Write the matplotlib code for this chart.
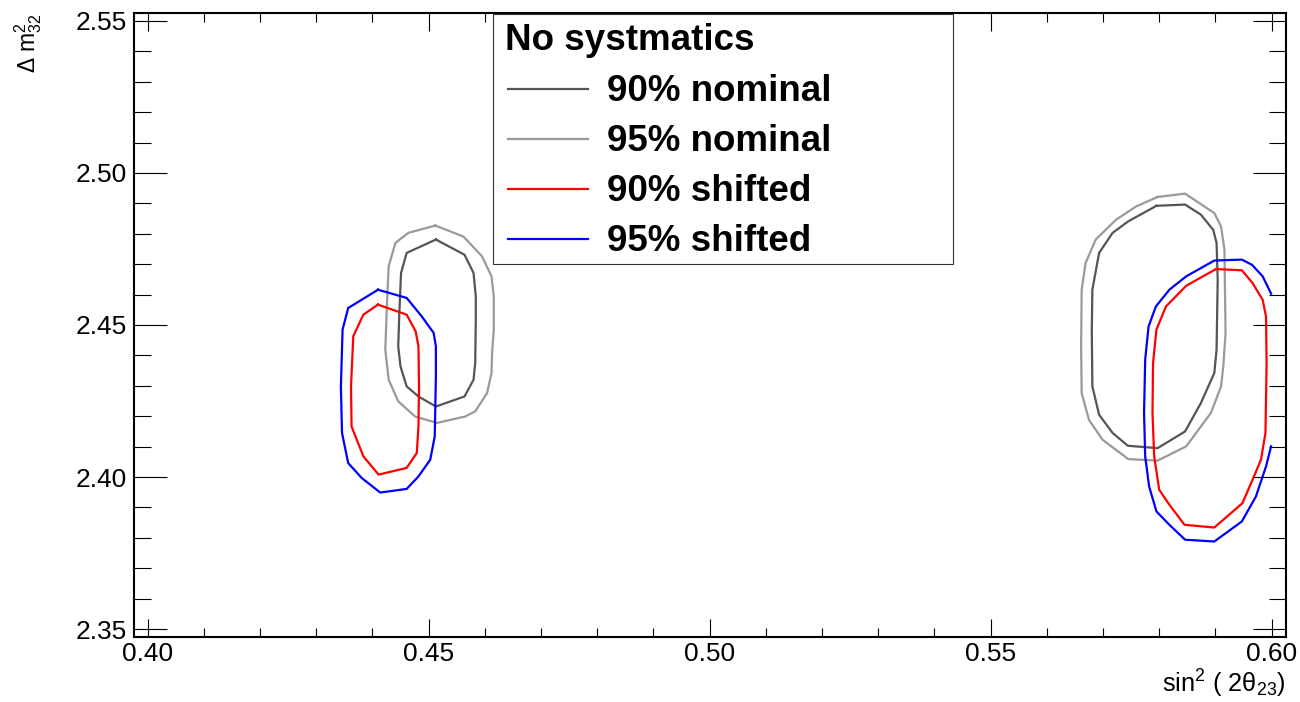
import numpy as np
import matplotlib
matplotlib.use("Agg")
import matplotlib.pyplot as plt
from matplotlib.ticker import MultipleLocator, FormatStrFormatter
from matplotlib.lines import Line2D
from matplotlib.patches import Rectangle

# Contours (sin^2(2theta23), dm^2_32)
nom90_left_x = [0.4513, 0.4564, 0.4580, 0.4584, 0.4584, 0.4583, 0.4580, 0.4564,
                0.4513, 0.4482, 0.4461, 0.4450, 0.4446, 0.4448, 0.4451, 0.4461]
nom90_left_y = [2.4781, 2.4731, 2.4671, 2.4594, 2.4517, 2.4375, 2.4320, 2.4265,
                2.4232, 2.4265, 2.4298, 2.4364, 2.4430, 2.4539, 2.4671, 2.4737]
nom95_left_x = [0.4512, 0.4562, 0.4595, 0.4612, 0.4616, 0.4616, 0.4613, 0.4612, 0.4604, 0.4583,
                0.4565, 0.4515, 0.4476, 0.4446, 0.4429, 0.4423, 0.4426, 0.4429, 0.4441, 0.4464]
nom95_left_y = [2.4827, 2.4791, 2.4726, 2.4660, 2.4594, 2.4485, 2.4408, 2.4342, 2.4276, 2.4216,
                2.4199, 2.4178, 2.4199, 2.4249, 2.4320, 2.4419, 2.4572, 2.4693, 2.4770, 2.4803]
shf90_left_x = [0.4410, 0.4461, 0.4477, 0.4482, 0.4483, 0.4482, 0.4479, 0.4461,
                0.4411, 0.4384, 0.4363, 0.4362, 0.4366, 0.4384]
shf90_left_y = [2.4567, 2.4534, 2.4479, 2.4430, 2.4298, 2.4166, 2.4079, 2.4030,
                2.4008, 2.4068, 2.4166, 2.4298, 2.4463, 2.4534]
shf95_left_x = [0.4410, 0.4461, 0.4488, 0.4509, 0.4513, 0.4513, 0.4512, 0.4511, 0.4503, 0.4482,
                0.4461, 0.4414, 0.4381, 0.4357, 0.4346, 0.4344, 0.4347, 0.4357, 0.4381]
shf95_left_y = [2.4616, 2.4589, 2.4528, 2.4474, 2.4430, 2.4331, 2.4232, 2.4134, 2.4057, 2.4002,
                2.3961, 2.3949, 2.3997, 2.4046, 2.4145, 2.4298, 2.4485, 2.4556, 2.4583]

nom90_right_x = [0.5795, 0.5846, 0.5874, 0.5896, 0.5902, 0.5904, 0.5902, 0.5898, 0.5874, 0.5846,
                 0.5797, 0.5744, 0.5717, 0.5693, 0.5681, 0.5680, 0.5681, 0.5693, 0.5717, 0.5745]
nom90_right_y = [2.4892, 2.4896, 2.4863, 2.4813, 2.4770, 2.4649, 2.4419, 2.4342, 2.4243, 2.4150,
                 2.4095, 2.4103, 2.4145, 2.4205, 2.4298, 2.4485, 2.4616, 2.4737, 2.4803, 2.4841]
nom95_right_x = [0.5797, 0.5846, 0.5898, 0.5910, 0.5916, 0.5918, 0.5914, 0.5910, 0.5892, 0.5848, 0.5797,
                 0.5745, 0.5699, 0.5675, 0.5662, 0.5661, 0.5662, 0.5669, 0.5687, 0.5723, 0.5759]
nom95_right_y = [2.4921, 2.4932, 2.4868, 2.4824, 2.4748, 2.4474, 2.4364, 2.4298, 2.4211, 2.4101, 2.4054,
                 2.4059, 2.4123, 2.4188, 2.4276, 2.4430, 2.4616, 2.4704, 2.4781, 2.4846, 2.4890]
shf90_right_x = [0.5901, 0.5947, 0.5966, 0.5984, 0.5990, 0.5991, 0.5989, 0.5981, 0.5966, 0.5948,
                 0.5898, 0.5845, 0.5818, 0.5800, 0.5791, 0.5788, 0.5789, 0.5795, 0.5812, 0.5848]
shf90_right_y = [2.4684, 2.4680, 2.4638, 2.4583, 2.4528, 2.4375, 2.4145, 2.4057, 2.3991, 2.3914,
                 2.3834, 2.3843, 2.3909, 2.3958, 2.4068, 2.4211, 2.4375, 2.4485, 2.4561, 2.4629]
# open: cut by the edge of the scan at 0.60
shf95_right_x = [0.5999, 0.5984, 0.5965, 0.5947, 0.5898, 0.5848, 0.5818, 0.5794, 0.5781, 0.5775, 0.5773,
                 0.5775, 0.5782, 0.5795, 0.5818, 0.5846, 0.5898, 0.5947, 0.5972, 0.5990, 0.5999]
shf95_right_y = [2.4603, 2.4660, 2.4698, 2.4715, 2.4712, 2.4660, 2.4616, 2.4561, 2.4495, 2.4386, 2.4211,
                 2.4068, 2.3969, 2.3887, 2.3843, 2.3794, 2.3788, 2.3854, 2.3936, 2.4035, 2.4101]

labels = ["90% nominal", "95% nominal", "90% shifted", "95% shifted"]
colors = ["#555555", "#9a9a9a", "#ff0000", "#0000ff"]
contours = [
    [(nom90_left_x, nom90_left_y, True), (nom90_right_x, nom90_right_y, True)],
    [(nom95_left_x, nom95_left_y, True), (nom95_right_x, nom95_right_y, True)],
    [(shf90_left_x, shf90_left_y, True), (shf90_right_x, shf90_right_y, True)],
    [(shf95_left_x, shf95_left_y, True), (shf95_right_x, shf95_right_y, False)],
]
legend_title = "No systmatics"

plt.rcParams["font.family"] = ["Liberation Sans", "DejaVu Sans"]
plt.rcParams["mathtext.fontset"] = "custom"
plt.rcParams["mathtext.rm"] = "Liberation Sans"
plt.rcParams["mathtext.it"] = "Liberation Sans:italic"
plt.rcParams["mathtext.bf"] = "Liberation Sans:bold"
plt.rcParams["mathtext.default"] = "regular"

W, H = 1300, 702
fig = plt.figure(figsize=(W / 100, H / 100), dpi=100)
ax = fig.add_axes([133.5 / W, 1 - 636.7 / H, (1285.7 - 133.5) / W, (636.7 - 13.3) / H])

for conts, color in zip(contours, colors):
    for xs, ys, closed in conts:
        xs, ys = list(xs), list(ys)
        if closed:
            xs.append(xs[0])
            ys.append(ys[0])
        ax.plot(xs, ys, color=color, lw=1.6, solid_joinstyle="round")

ax.set_xlim(0.3975, 0.6025)
ax.set_ylim(2.3475, 2.5525)
ax.xaxis.set_major_locator(MultipleLocator(0.05))
ax.xaxis.set_minor_locator(MultipleLocator(0.01))
ax.yaxis.set_major_locator(MultipleLocator(0.05))
ax.yaxis.set_minor_locator(MultipleLocator(0.01))
ax.xaxis.set_major_formatter(FormatStrFormatter("%.2f"))
ax.yaxis.set_major_formatter(FormatStrFormatter("%.2f"))
ax.tick_params(which="both", direction="in", top=True, right=True, width=0.8, labelsize=19)
ax.tick_params(axis="x", which="major", length=13, pad=4)
ax.tick_params(axis="x", which="minor", length=6.5)
ax.tick_params(axis="y", which="major", length=24, pad=4.5)
ax.tick_params(axis="y", which="minor", length=12.5)
for s in ax.spines.values():
    s.set_linewidth(1.5)

fig.text(1286 / W, 1 - 692.7 / H, r"$sin^{2}\ (\ 2θ_{23})$", ha="right", va="baseline", fontsize=18.3)
fig.text(35 / W, 1 - 13.3 / H, r"$Δ\ m^{2}_{32}$", rotation=90, rotation_mode="anchor",
         ha="right", va="baseline", fontsize=16.5)

# legend box, drawn by hand to place it like the ROOT TLegend
fig.add_artist(Rectangle((492.7 / W, 1 - 264 / H), (953.3 - 492.7) / W, (264 - 14) / H,
                         transform=fig.transFigure, facecolor="white", edgecolor="#333333",
                         lw=0.8, zorder=3))
fig.text(505 / W, 1 - 50 / H, legend_title, fontsize=26.5, fontweight="bold", zorder=4)
for i, (lab, color) in enumerate(zip(labels, colors)):
    yb = 100.7 + 50 * i
    fig.add_artist(Line2D([508 / W, 588 / W], [1 - (yb - 11.5) / H] * 2, color=color, lw=1.6,
                          transform=fig.transFigure, zorder=4))
    fig.text(606.7 / W, 1 - yb / H, lab, fontsize=26.5, fontweight="bold", zorder=4)

fig.savefig("out.png", dpi=100)
